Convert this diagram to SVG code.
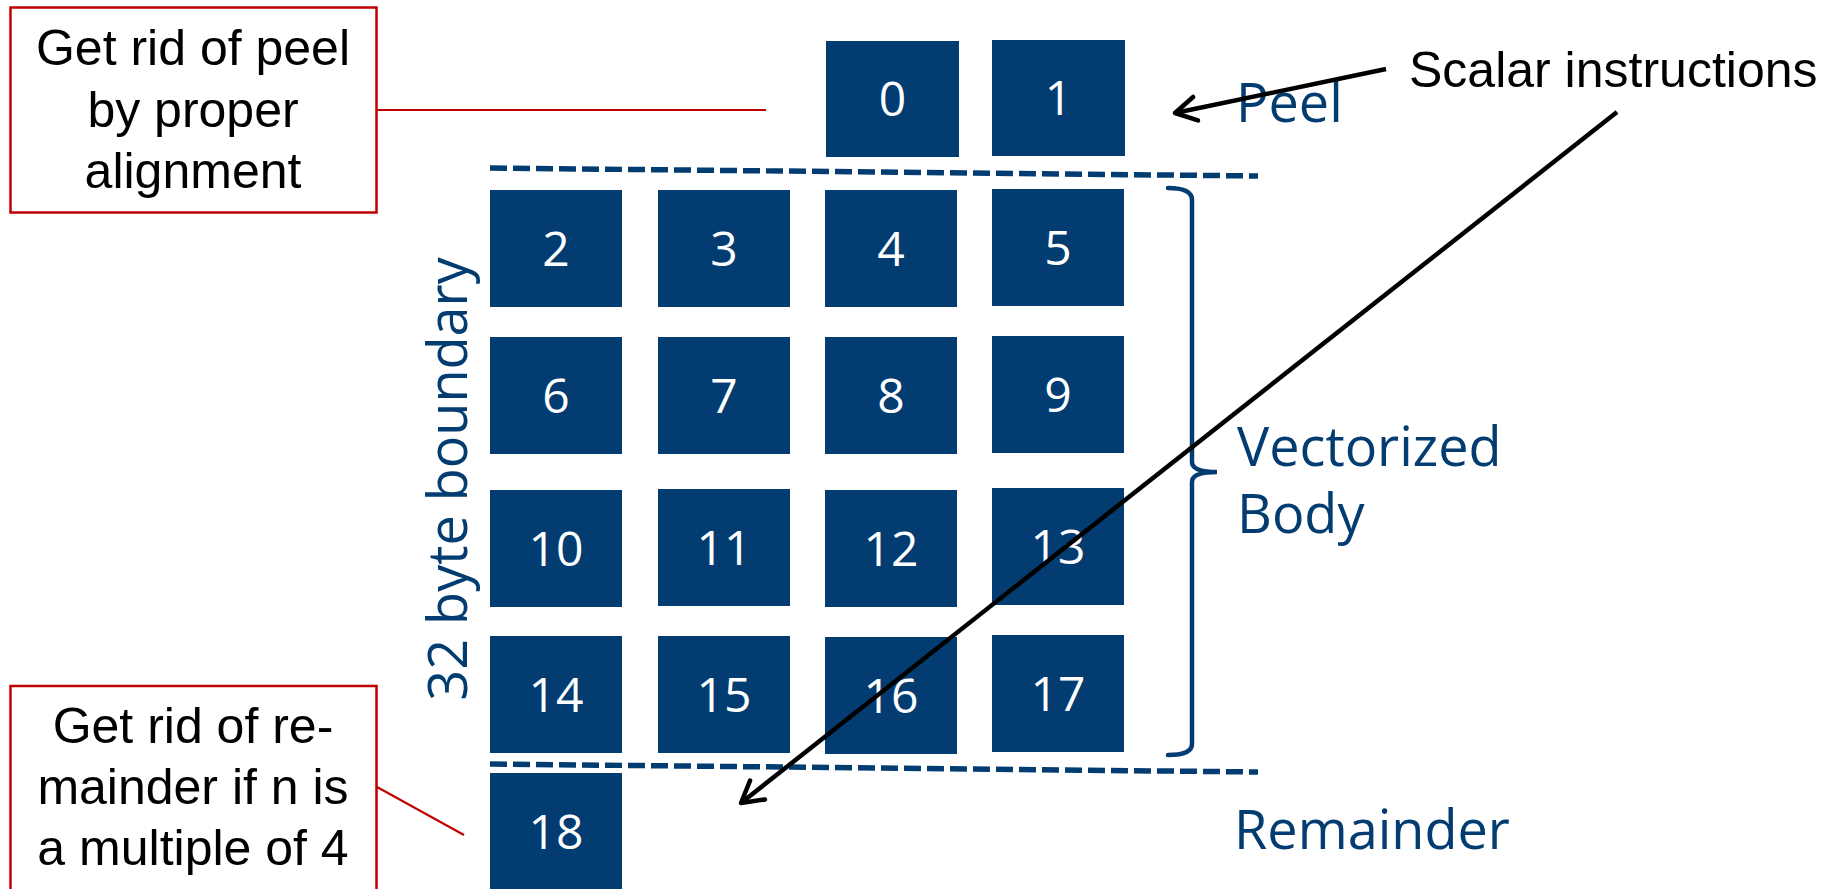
<svg xmlns="http://www.w3.org/2000/svg" width="1833" height="889" viewBox="0 0 1833 889">
<style>
.cell rect{fill:#023c71;}
.cell text{fill:#ffffff;font-family:"Open Sans",sans-serif;font-size:48px;text-anchor:middle;}
.callout rect{fill:#ffffff;stroke:#c00000;stroke-width:2.5;}
.callout text{fill:#000000;font-family:"Liberation Sans",Arial,sans-serif;font-size:50px;text-anchor:middle;}
.lbl{fill:#023c71;font-family:"Open Sans",sans-serif;font-size:54px;}
.dash{stroke:#023c71;stroke-width:5.5;stroke-dasharray:17 6;fill:none;}
.red{stroke:#c00000;stroke-width:2;fill:none;}
.blk{stroke:#000000;stroke-width:4.5;fill:none;}
</style>
<defs>
<marker id="ah" markerUnits="userSpaceOnUse" viewBox="-26 -16 30 32" markerWidth="30" markerHeight="32" refX="0" refY="0" orient="auto">
<polyline points="-21,-12 0,0 -21,12" fill="none" stroke="#000000" stroke-width="4.5" stroke-linecap="round" stroke-linejoin="round"/>
</marker>
</defs>
<rect width="1833" height="889" fill="#ffffff"/>

<g id="peel-callout" class="callout">
<rect x="10.5" y="7.5" width="366" height="205"/>
<text x="193" y="65">Get rid of peel</text>
<text x="193" y="127">by proper</text>
<text x="193" y="188">alignment</text>
</g>
<g id="remainder-callout" class="callout">
<rect x="10.5" y="686" width="366" height="230"/>
<text x="193" y="743">Get rid of re-</text>
<text x="193" y="804">mainder if n is</text>
<text x="193" y="865">a multiple of 4</text>
</g>

<g id="cell-0" class="cell"><rect x="826" y="41" width="133" height="116"/><text x="892.5" y="116">0</text></g>
<g id="cell-1" class="cell"><rect x="992" y="40" width="133" height="116"/><text x="1058.5" y="115">1</text></g>

<g id="cell-2" class="cell"><rect x="490" y="190" width="132" height="117"/><text x="556" y="266">2</text></g>
<g id="cell-3" class="cell"><rect x="658" y="190" width="132" height="117"/><text x="724" y="266">3</text></g>
<g id="cell-4" class="cell"><rect x="825" y="190" width="132" height="117"/><text x="891" y="266">4</text></g>
<g id="cell-5" class="cell"><rect x="992" y="189" width="132" height="117"/><text x="1058" y="265">5</text></g>

<g id="cell-6" class="cell"><rect x="490" y="337" width="132" height="117"/><text x="556" y="413">6</text></g>
<g id="cell-7" class="cell"><rect x="658" y="337" width="132" height="117"/><text x="724" y="413">7</text></g>
<g id="cell-8" class="cell"><rect x="825" y="337" width="132" height="117"/><text x="891" y="413">8</text></g>
<g id="cell-9" class="cell"><rect x="992" y="336" width="132" height="117"/><text x="1058" y="412">9</text></g>

<g id="cell-10" class="cell"><rect x="490" y="490" width="132" height="117"/><text x="556" y="566">10</text></g>
<g id="cell-11" class="cell"><rect x="658" y="489" width="132" height="117"/><text x="724" y="565">11</text></g>
<g id="cell-12" class="cell"><rect x="825" y="490" width="132" height="117"/><text x="891" y="566">12</text></g>
<g id="cell-13" class="cell"><rect x="992" y="488" width="132" height="117"/><text x="1058" y="564">13</text></g>

<g id="cell-14" class="cell"><rect x="490" y="636" width="132" height="117"/><text x="556" y="712">14</text></g>
<g id="cell-15" class="cell"><rect x="658" y="636" width="132" height="117"/><text x="724" y="712">15</text></g>
<g id="cell-16" class="cell"><rect x="825" y="637" width="132" height="117"/><text x="891" y="713">16</text></g>
<g id="cell-17" class="cell"><rect x="992" y="635" width="132" height="117"/><text x="1058" y="711">17</text></g>

<g id="cell-18" class="cell"><rect x="490" y="773" width="132" height="120"/><text x="556" y="849">18</text></g>

<g id="boundaries">
<line class="dash" x1="490" y1="168" x2="1258" y2="176"/>
<line class="dash" x1="490" y1="764" x2="1258" y2="772"/>
<path d="M1168,188 Q1192,188 1192,200 L1192,462 Q1192,472 1217,472 Q1192,472 1192,482 L1192,744 Q1192,755 1168,755" fill="none" stroke="#023c71" stroke-width="4.5" stroke-linecap="round"/>
</g>

<g id="labels">
<text class="lbl" x="1236" y="122">Peel</text>
<text class="lbl" x="1237" y="466">Vectorized</text>
<text class="lbl" x="1237" y="533">Body</text>
<text class="lbl" x="1234" y="849">Remainder</text>
<text class="lbl" transform="translate(467,479) rotate(-90)" text-anchor="middle">32 byte boundary</text>
<text x="1409" y="87" font-family="'Liberation Sans',Arial,sans-serif" font-size="50" fill="#000000">Scalar instructions</text>
</g>

<g id="connectors">
<line class="red" x1="377" y1="110" x2="766" y2="110"/>
<line class="red" x1="377" y1="787" x2="464" y2="835"/>
<line class="blk" x1="1386" y1="69" x2="1175" y2="113" marker-end="url(#ah)"/>
<line class="blk" x1="1617" y1="112" x2="741" y2="803" marker-end="url(#ah)"/>
</g>
</svg>
